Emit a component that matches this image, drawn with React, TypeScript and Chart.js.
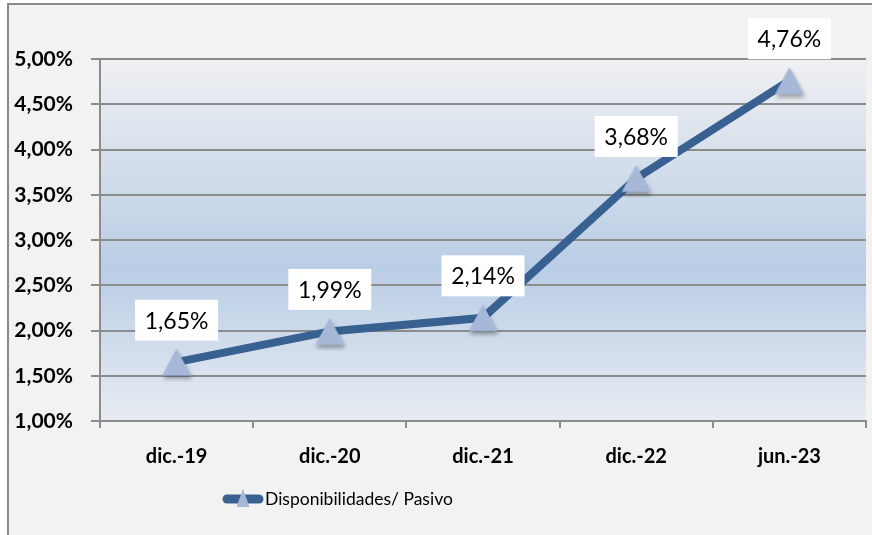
import React, { useEffect, useRef } from 'react';
import { Chart, registerables } from 'chart.js';

Chart.register(...registerables);

const categories = ['dic.-19', 'dic.-20', 'dic.-21', 'dic.-22', 'jun.-23'];
const ratioValues = [1.65, 1.99, 2.14, 3.68, 4.76];
const seriesName = 'Disponibilidades/ Pasivo';
const yMin = 1;
const yMax = 5;
const yStep = 0.5;

const fmtPct = (v: number) => v.toFixed(2).replace('.', ',') + '%';

const LINE_COLOR = '#386192';
const MARKER_COLOR = '#a6b7d7';
const GRID_COLOR = '#8c8c8c';

function makeMarker(): HTMLCanvasElement {
  const c = document.createElement('canvas');
  c.width = 40;
  c.height = 40;
  const ctx = c.getContext('2d')!;
  ctx.shadowColor = 'rgba(0,0,0,0.35)';
  ctx.shadowBlur = 4;
  ctx.shadowOffsetX = 1;
  ctx.shadowOffsetY = 3;
  ctx.beginPath();
  ctx.moveTo(20, 6.5);
  ctx.lineTo(34.5, 33.5);
  ctx.lineTo(5.5, 33.5);
  ctx.closePath();
  ctx.fillStyle = MARKER_COLOR;
  ctx.fill();
  return c;
}

const plotBgPlugin = {
  id: 'plotBg',
  beforeDraw(chart: any) {
    const { ctx, chartArea } = chart;
    const g = ctx.createLinearGradient(0, chartArea.top, 0, chartArea.bottom);
    g.addColorStop(0, '#eff0f2');
    g.addColorStop(0.58, '#b9cde5');
    g.addColorStop(1, '#e8ecf2');
    ctx.save();
    ctx.fillStyle = g;
    ctx.fillRect(chartArea.left, chartArea.top, chartArea.right - chartArea.left, chartArea.bottom - chartArea.top);
    ctx.restore();
  },
};

const dataLabelPlugin = {
  id: 'dataLabels',
  afterDatasetsDraw(chart: any) {
    const { ctx } = chart;
    const meta = chart.getDatasetMeta(0);
    ctx.save();
    ctx.font = '23px Lato';
    ctx.textAlign = 'center';
    ctx.textBaseline = 'middle';
    meta.data.forEach((pt: any, i: number) => {
      const cx = pt.x;
      const cy = pt.y - 42;
      ctx.fillStyle = '#ffffff';
      ctx.fillRect(cx - 41.5, cy - 20.5, 83, 41);
      ctx.fillStyle = '#000000';
      ctx.fillText(fmtPct(ratioValues[i]), cx, cy + 1);
    });
    ctx.restore();
  },
};

const legendPlugin = {
  id: 'customLegend',
  afterDraw(chart: any) {
    const { ctx } = chart;
    const y = chart.chartArea.bottom + 78;
    const x0 = 227;
    const x1 = 259;
    ctx.save();
    ctx.strokeStyle = LINE_COLOR;
    ctx.lineWidth = 9;
    ctx.lineCap = 'round';
    ctx.beginPath();
    ctx.moveTo(x0, y);
    ctx.lineTo(x1, y);
    ctx.stroke();
    const tx = (x0 + x1) / 2;
    ctx.fillStyle = MARKER_COLOR;
    ctx.beginPath();
    ctx.moveTo(tx, y - 10);
    ctx.lineTo(tx + 6.5, y + 8);
    ctx.lineTo(tx - 6.5, y + 8);
    ctx.closePath();
    ctx.fill();
    ctx.fillStyle = '#000000';
    ctx.font = '17.5px Lato';
    ctx.textAlign = 'left';
    ctx.textBaseline = 'middle';
    ctx.fillText(seriesName, 265, y);
    ctx.restore();
  },
};

export default function App() {
  const canvasRef = useRef<HTMLCanvasElement | null>(null);

  useEffect(() => {
    if (!canvasRef.current) return;
    const marker = makeMarker();
    const chart = new Chart(canvasRef.current, {
      type: 'line',
      data: {
        labels: categories,
        datasets: [
          {
            label: seriesName,
            data: ratioValues,
            borderColor: LINE_COLOR,
            borderWidth: 8,
            tension: 0,
            pointStyle: marker as any,
            pointRadius: 14,
            pointHoverRadius: 14,
            backgroundColor: MARKER_COLOR,
            clip: false as any,
          },
        ],
      },
      options: {
        animation: false,
        responsive: false,
        maintainAspectRatio: false,
        events: [],
        layout: { autoPadding: false, padding: { top: 59, right: 6, bottom: 0, left: 0 } },
        plugins: {
          legend: { display: false },
          tooltip: { enabled: false },
          title: { display: false },
        },
        scales: {
          x: {
            type: 'category',
            offset: true,
            afterFit(scale: any) {
              scale.height = 114;
              scale.paddingLeft = 0;
              scale.paddingRight = 0;
            },
            grid: {
              offset: true,
              drawOnChartArea: false,
              drawTicks: true,
              tickLength: 7,
              color: GRID_COLOR,
              lineWidth: 2,
            },
            border: { display: true, color: GRID_COLOR, width: 2 },
            ticks: {
              color: '#000000',
              padding: 17,
              font: { family: 'Lato', weight: 'bold', size: 20 },
              maxRotation: 0,
            },
          },
          y: {
            min: yMin,
            max: yMax,
            afterFit(scale: any) {
              scale.width = 100;
            },
            grid: {
              color: GRID_COLOR,
              lineWidth: 2,
              drawTicks: true,
              tickLength: 9,
            },
            border: { display: true, color: GRID_COLOR, width: 2 },
            ticks: {
              stepSize: yStep,
              color: '#000000',
              padding: 18,
              font: { family: 'Lato', weight: 'bold', size: 21 },
              callback: (v: any) => fmtPct(Number(v)),
            },
          },
        },
      },
      plugins: [plotBgPlugin, dataLabelPlugin, legendPlugin],
    });
    return () => chart.destroy();
  }, []);

  return (
    <div style={{ position: 'fixed', left: 0, top: 0, width: 872, height: 535, background: '#ffffff', overflow: 'hidden' }}>
      <div
        style={{
          position: 'absolute',
          left: 7,
          top: 3,
          width: 880,
          height: 540,
          background: '#f2f2f2',
          borderTop: '2px solid #8a8a8a',
          borderLeft: '2px solid #8a8a8a',
        }}
      />
      <canvas ref={canvasRef} width={872} height={535} style={{ position: 'absolute', left: 0, top: 0, width: 872, height: 535 }} />
    </div>
  );
}
